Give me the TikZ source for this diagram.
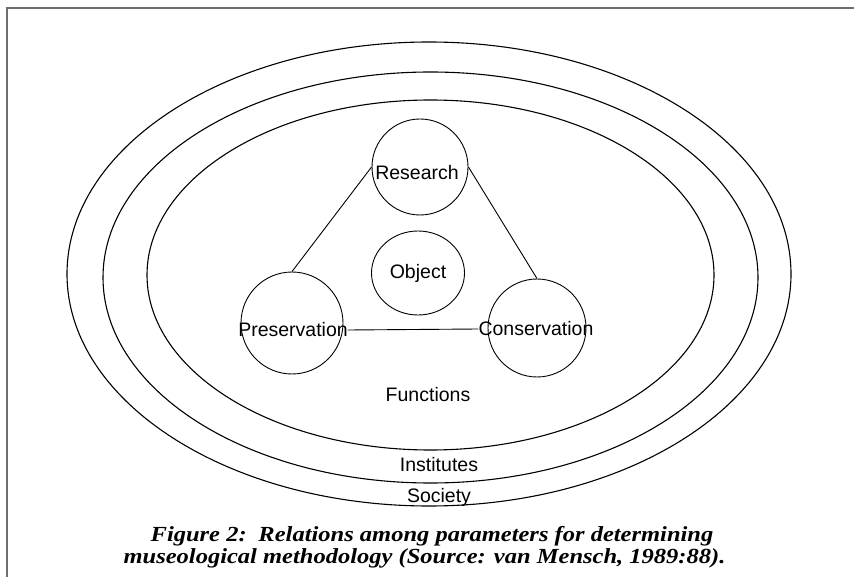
\documentclass[tikz,border=0pt]{standalone}
\usepackage{fontspec}
\setmainfont{Liberation Sans}
\newfontfamily\capfont[FakeStretch=1.14]{Liberation Serif}
\usetikzlibrary{shapes.geometric}
\definecolor{framegray}{RGB}{110,110,110}
\begin{document}
\begin{tikzpicture}[x=1pt,y=-1pt,
  ring/.style={draw=black,line width=1.1pt},
  circ/.style={draw=black,line width=0.9pt,circle,inner sep=0pt},
  lbl/.style={inner sep=0pt,font=\fontsize{19.5}{23}\selectfont},
  capline/.style={inner sep=0pt,anchor=base,font=\capfont\bfseries\itshape\fontsize{21.5}{24}\selectfont},
  link/.style={draw=black,line width=0.9pt}]
\useasboundingbox (0,0) rectangle (854,577);
% frame
\draw[framegray,line width=1.6pt] (7,577) -- (7,8) -- (854,8);
% rings
\draw[ring] (429,274) ellipse [x radius=362, y radius=232];
\draw[ring] (430.5,277.5) ellipse [x radius=327.5, y radius=205.5];
\draw[ring] (430.5,275) ellipse [x radius=283.5, y radius=175];
% circles
\node[circ,minimum size=96pt] (rc) at (420,167) {};
\node[circ,minimum size=102pt] (pc) at (292,323) {};
\node[circ,minimum size=98pt] (cc) at (537,328) {};
\node[draw=black,line width=0.9pt,ellipse,inner sep=0pt,minimum width=93pt,minimum height=84pt,lbl] (oc) at (418,273) {Object};
% labels
\node[lbl] (rt) at (417,173) {Research};
\node[lbl] (pt) at (293,330) {Preservation};
\node[lbl] (ct) at (536,329) {Conservation};
\node[lbl] (ft) at (428,395) {Functions};
\node[lbl] (it) at (439,465) {Institutes};
\node[lbl] (st) at (439,497) {Society};
% connectors
\draw[link] (rc.west) -- (pc.north);
\draw[link] (rc.east) -- (cc.north);
\draw[link] (pt.east) -- (ct.west);
% caption
\node[capline] (cap1) at (432,541) {Figure 2:\hspace{0.55em}Relations among parameters for determining};
\node[capline] (cap2) at (424.5,563) {museological methodology (Source: van Mensch, 1989:88).};
\end{tikzpicture}
\end{document}
